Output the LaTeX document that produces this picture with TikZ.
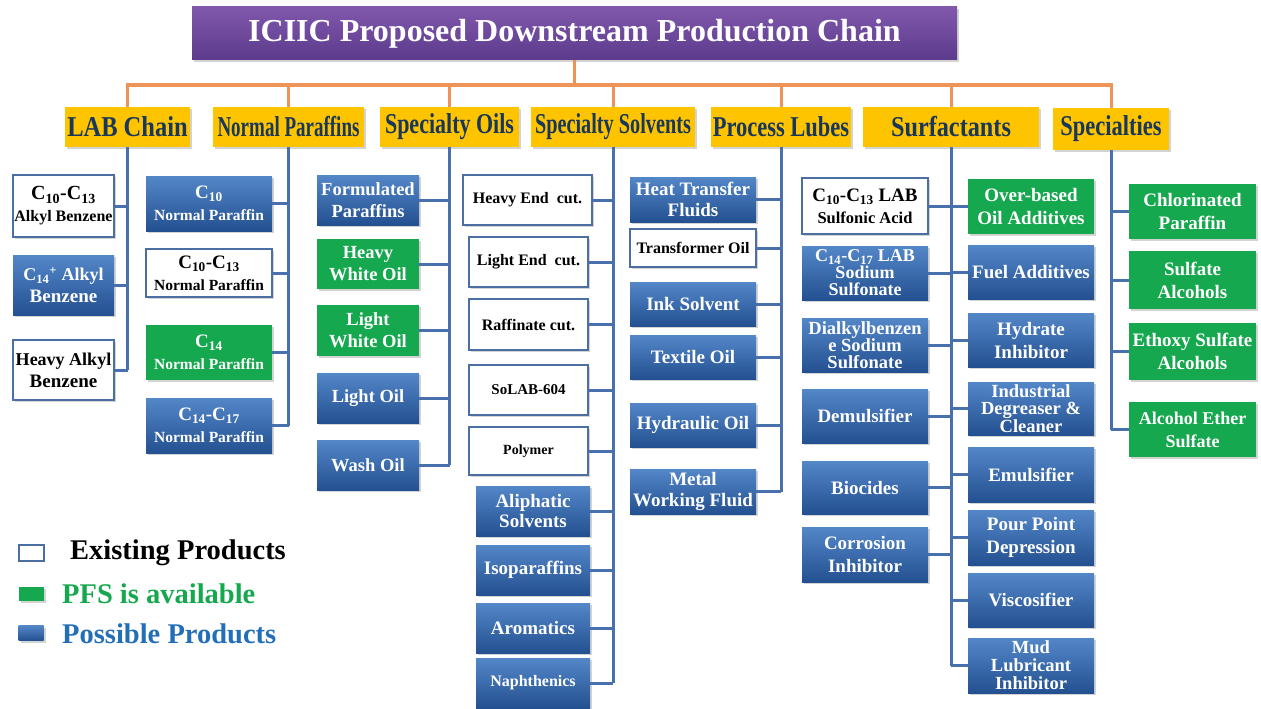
\documentclass[tikz,border=0pt]{standalone}
\usepackage{fontspec}
\setmainfont{Liberation Serif}
\usepackage{graphicx}
\usetikzlibrary{shadows}
\definecolor{bT}{RGB}{84,135,200}
\definecolor{bB}{RGB}{35,80,145}
\definecolor{gF}{RGB}{22,168,78}
\definecolor{wB}{RGB}{75,110,165}
\definecolor{yel}{RGB}{255,196,0}
\definecolor{hdT}{RGB}{25,55,90}
\definecolor{pT}{RGB}{128,88,172}
\definecolor{pB}{RGB}{92,58,140}
\definecolor{cB}{RGB}{72,112,172}
\definecolor{oC}{RGB}{238,148,88}
\definecolor{gT}{RGB}{22,168,78}
\definecolor{lbT}{RGB}{35,110,185}
\newcommand\fs[2]{\fontsize{#1}{#2}\selectfont}
\newcommand\hsq[2]{\scalebox{#1}[1.15]{#2}}
\begin{document}
\begin{tikzpicture}[x=1pt,y=-1pt,
 shd/.style={drop shadow={opacity=0.35, shadow xshift=2pt, shadow yshift=-2pt}},
 base/.style={rectangle, inner sep=0pt, align=center, font=\bfseries\fs{19}{22}, shd},
 bb/.style={base, top color=bT, bottom color=bB, text=white},
 gb/.style={base, fill=gF, text=white},
 wb/.style={base, fill=white, draw=wB, line width=1.8pt, text=black},
 hd/.style={rectangle, inner sep=0pt, fill=yel, text=hdT, font=\bfseries\fs{25}{28}, minimum height=40, shd},
 ttl/.style={rectangle, inner sep=0pt, top color=pT, bottom color=pB, text=white, font=\bfseries\fs{32}{36}, shd},
 sz/.style 2 args={minimum width=#1, minimum height=#2},
 conn/.style={draw=cB, line width=3pt},
 org/.style={draw=oC, line width=3pt}]
\useasboundingbox (0,0) rectangle (1261,709);

% title
\node[ttl, sz={765}{53}] (title) at (574.5,33.5) {ICIIC Proposed Downstream Production Chain};

% headers
\node[hd, minimum width=125] (hLAB) at (127.5,127) {\hsq{0.98}{LAB Chain}};
\node[hd, minimum width=151] (hNP) at (288.5,127) {\hsq{0.76}{Normal Paraffins}};
\node[hd, minimum width=139] (hSO) at (449.5,127) {\hsq{0.88}{Specialty Oils}};
\node[hd, minimum width=164] (hSS) at (613,127) {\hsq{0.81}{Specialty Solvents}};
\node[hd, minimum width=140] (hPL) at (781,127) {\hsq{0.9}{Process Lubes}};
\node[hd, minimum width=176] (hSurf) at (951,127) {\hsq{0.97}{Surfactants}};
\node[hd, minimum width=116, minimum height=42] (hSpec) at (1111,129) {\hsq{0.9}{Specialties}};

% orange bus
\coordinate (bus) at (574.5,85);
\draw[org] (title.south) -- (title.south |- bus);
\draw[org] (hLAB.north) -- (hLAB.north |- bus) -- (hSpec.north |- bus) -- (hSpec.north);
\foreach \h in {hNP,hSO,hSS,hPL,hSurf} \draw[org] (\h.north) -- (\h.north |- bus);

% LAB chain
\node[wb, sz={101}{62}] (lab1) at (63.5,206) {\fs{20}{20}C\textsubscript{10}-C\textsubscript{13}\\\fs{16}{19}Alkyl Benzene};
\node[bb, sz={101}{60}] (lab2) at (63.5,285) {\fs{18}{22}C\textsubscript{14}\textsuperscript{+} Alkyl\\Benzene};
\node[wb, sz={101}{60}] (lab3) at (63.5,370) {\fs{18}{22}Heavy Alkyl\\Benzene};

% Normal paraffins
\node[bb, sz={126}{55}] (np1) at (209,203.5) {\fs{19}{20}C\textsubscript{10}\\\fs{15.5}{19}Normal Paraffin};
\node[wb, sz={126}{48}] (np2) at (209,273) {\fs{19}{20}C\textsubscript{10}-C\textsubscript{13}\\\fs{15.5}{19}Normal Paraffin};
\node[gb, sz={126}{55}] (np3) at (209,352.5) {\fs{19}{20}C\textsubscript{14}\\\fs{15.5}{19}Normal Paraffin};
\node[bb, sz={126}{55}] (np4) at (209,425.5) {\fs{19}{20}C\textsubscript{14}-C\textsubscript{17}\\\fs{15.5}{19}Normal Paraffin};

% Specialty oils
\node[bb, sz={102}{50}, font=\bfseries\fs{18.5}{22}] (so1) at (368,200) {Formulated\\Paraffins};
\node[gb, sz={102}{50}, font=\bfseries\fs{18.5}{22}] (so2) at (368,264) {Heavy\\White Oil};
\node[gb, sz={102}{51}, font=\bfseries\fs{18.5}{22}] (so3) at (368,330.5) {Light\\White Oil};
\node[bb, sz={102}{50}, font=\bfseries\fs{18.5}{22}] (so4) at (368,398) {Light Oil};
\node[bb, sz={102}{50}, font=\bfseries\fs{18.5}{22}] (so5) at (368,465) {Wash Oil};

% Specialty solvents
\node[wb, sz={129}{50}, font=\bfseries\fs{16}{19}] (ss1) at (527.5,200) {Heavy End\ \ cut.};
\node[wb, sz={119}{50}, font=\bfseries\fs{16}{19}] (ss2) at (528.5,262) {Light End\ \ cut.};
\node[wb, sz={119}{51}, font=\bfseries\fs{16}{19}] (ss3) at (528.5,324.5) {Raffinate cut.};
\node[wb, sz={119}{50}, font=\bfseries\fs{15}{19}] (ss4) at (528.5,390) {SoLAB-604};
\node[wb, sz={119}{48}, font=\bfseries\fs{14}{19}] (ss5) at (528.5,451) {Polymer};
\node[bb, sz={114}{50}, font=\bfseries\fs{19}{20}] (ss6) at (533,511) {Aliphatic\\Solvents};
\node[bb, sz={114}{50}] (ss7) at (533,570) {Isoparaffins};
\node[bb, sz={114}{50}] (ss8) at (533,628) {Aromatics};
\node[bb, sz={114}{50}, font=\bfseries\fs{16}{19}] (ss9) at (533,683) {Naphthenics};

% Process lubes
\node[bb, sz={126}{45}, font=\bfseries\fs{19}{21}] (pl1) at (693,199.5) {Heat Transfer\\Fluids};
\node[wb, sz={126}{38}, font=\bfseries\fs{16}{19}] (pl2) at (693,248) {Transformer Oil};
\node[bb, sz={126}{44}] (pl3) at (693,304) {Ink Solvent};
\node[bb, sz={126}{44}] (pl4) at (693,357) {Textile Oil};
\node[bb, sz={126}{44}] (pl5) at (693,425) {Hydraulic Oil};
\node[bb, sz={126}{45}, font=\bfseries\fs{19}{21}] (pl6) at (693,491.5) {Metal\\Working Fluid};

% Surfactants left
\node[wb, sz={126}{56}] (sl1) at (865,206) {\fs{19}{20}C\textsubscript{10}-C\textsubscript{13} LAB\\\fs{16.5}{21}Sulfonic Acid};
\node[bb, sz={126}{54}, font=\bfseries\fs{18}{17}] (sl2) at (865,273) {C\textsubscript{14}-C\textsubscript{17} LAB\\Sodium\\Sulfonate};
\node[bb, sz={126}{54}, font=\bfseries\fs{18.5}{17}] (sl3) at (865,345) {Dialkylbenzen\\e Sodium\\Sulfonate};
\node[bb, sz={126}{54}] (sl4) at (865,416) {Demulsifier};
\node[bb, sz={126}{53}] (sl5) at (865,487.5) {Biocides};
\node[bb, sz={126}{55}, font=\bfseries\fs{19}{23}] (sl6) at (865,554.5) {Corrosion\\Inhibitor};

% Surfactants right
\node[gb, sz={126}{55}, font=\bfseries\fs{19}{23}] (sr1) at (1031,206.5) {Over-based\\Oil Additives};
\node[bb, sz={126}{54}] (sr2) at (1031,272) {Fuel Additives};
\node[bb, sz={126}{54}, font=\bfseries\fs{19}{23}] (sr3) at (1031,340) {Hydrate\\Inhibitor};
\node[bb, sz={126}{53}, font=\bfseries\fs{18.5}{17.5}] (sr4) at (1031,408.5) {Industrial\\Degreaser \&\\Cleaner};
\node[bb, sz={126}{55}] (sr5) at (1031,474.5) {Emulsifier};
\node[bb, sz={126}{55}, font=\bfseries\fs{19}{23}] (sr6) at (1031,537.5) {Pour Point\\Depression};
\node[bb, sz={126}{54}] (sr7) at (1031,600) {Viscosifier};
\node[bb, sz={126}{55}, font=\bfseries\fs{18.5}{18}] (sr8) at (1031,665.5) {Mud\\Lubricant\\Inhibitor};

% Specialties
\node[gb, sz={127}{55}, font=\bfseries\fs{19}{23}] (sp1) at (1192.5,211.5) {Chlorinated\\Paraffin};
\node[gb, sz={127}{58}, font=\bfseries\fs{19}{23}] (sp2) at (1192.5,280) {Sulfate\\Alcohols};
\node[gb, sz={127}{57}, font=\bfseries\fs{19}{23}] (sp3) at (1192.5,351.5) {Ethoxy Sulfate\\Alcohols};
\node[gb, sz={127}{55}, font=\bfseries\fs{18}{23}] (sp4) at (1192.5,429.5) {Alcohol Ether\\Sulfate};

% connectors
\draw[conn] (hLAB.south) -- (hLAB.south |- lab3.east);
\foreach \b in {lab1,lab2,lab3} \draw[conn] (\b.east) -- (\b.east -| hLAB.south);
\draw[conn] (hNP.south) -- (hNP.south |- np4.east);
\foreach \b in {np1,np2,np3,np4} \draw[conn] (\b.east) -- (\b.east -| hNP.south);
\draw[conn] (hSO.south) -- (hSO.south |- so5.east);
\foreach \b in {so1,so2,so3,so4,so5} \draw[conn] (\b.east) -- (\b.east -| hSO.south);
\draw[conn] (hSS.south) -- (hSS.south |- ss9.east);
\foreach \b in {ss1,ss2,ss3,ss4,ss5,ss6,ss7,ss8,ss9} \draw[conn] (\b.east) -- (\b.east -| hSS.south);
\draw[conn] (hPL.south) -- (hPL.south |- pl6.east);
\foreach \b in {pl1,pl2,pl3,pl4,pl5,pl6} \draw[conn] (\b.east) -- (\b.east -| hPL.south);
\draw[conn] (hSurf.south) -- (hSurf.south |- sr8.west);
\foreach \b in {sl1,sl2,sl3,sl4,sl5,sl6} \draw[conn] (\b.east) -- (\b.east -| hSurf.south);
\foreach \b in {sr1,sr2,sr3,sr4,sr5,sr6,sr7,sr8} \draw[conn] (\b.west) -- (\b.west -| hSurf.south);
\draw[conn] (hSpec.south) -- (hSpec.south |- sp4.west);
\foreach \b in {sp1,sp2,sp3,sp4} \draw[conn] (\b.west) -- (\b.west -| hSpec.south);

% legend
\node[rectangle, draw=wB, line width=2pt, fill=white, sz={25}{16}] (lg1) at (31,553) {};
\node[anchor=west, inner sep=0pt, font=\bfseries\fs{28.5}{30}, text=black] (lt1) at (70,553) {Existing Products};
\node[rectangle, fill=gF, sz={25}{14}, shd] (lg2) at (31,594) {};
\node[anchor=west, inner sep=0pt, font=\bfseries\fs{28.5}{30}, text=gT] (lt2) at (62,594) {PFS is available};
\node[rectangle, top color=bT, bottom color=bB, sz={25}{15}, shd] (lg3) at (31,633) {};
\node[anchor=west, inner sep=0pt, font=\bfseries\fs{28.5}{30}, text=lbT] (lt3) at (62,634) {Possible Products};
\end{tikzpicture}
\end{document}
